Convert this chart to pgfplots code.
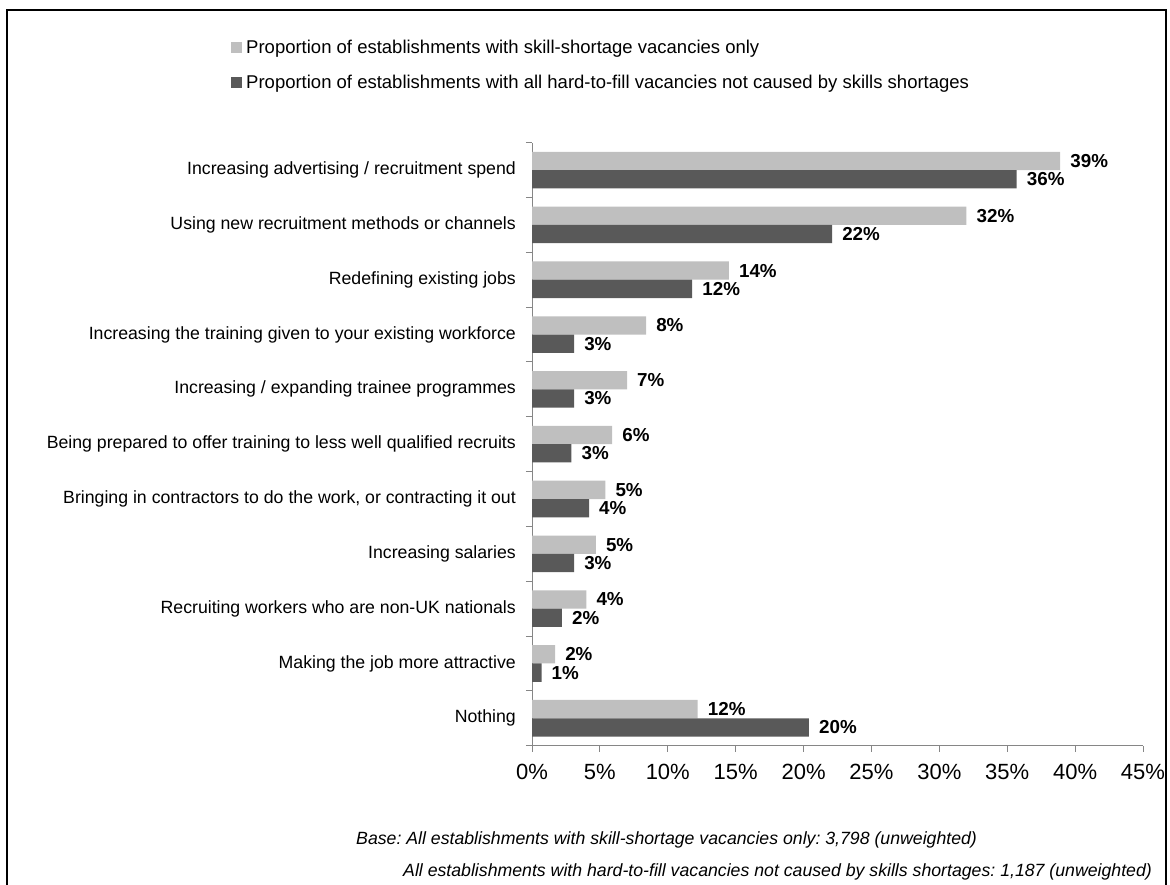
\documentclass[border=0pt]{standalone}
\usepackage{fontspec}
\setmainfont{Liberation Sans}
\usepackage{pgfplots}
\usepackage{pgfplotstable}
\pgfplotsset{compat=1.18}
\frenchspacing

\definecolor{lightbar}{HTML}{BFBFBF}
\definecolor{darkbar}{HTML}{595959}
\definecolor{axisgray}{HTML}{868686}

% pos: 10 = top category, 0 = Nothing; labs are the printed (rounded) values
\pgfplotstableread{
pos light llab dark dlab
10 38.9 39 35.7 36
9  32.0 32 22.1 22
8  14.5 14 11.8 12
7  8.4  8  3.1  3
6  7.0  7  3.1  3
5  5.9  6  2.9  3
4  5.4  5  4.2  4
3  4.7  5  3.1  3
2  4.0  4  2.2  2
1  1.7  2  0.7  1
0  12.2 12 20.4 20
}\measures

\begin{document}
\begin{tikzpicture}[x=1pt,y=1pt]
\useasboundingbox (0,0) rectangle (1170,884);
\draw[line width=2pt] (7,-2) -- (7,874) -- (1166,874) -- (1166,-2);
\begin{axis}[
  at={(532pt,138.3pt)}, anchor=south west,
  scale only axis, width=611pt, height=603pt,
  xbar=0pt, bar width=18.3pt,
  xmin=0, xmax=45, ymin=-0.5, ymax=10.5,
  axis x line*=bottom, axis y line*=left,
  axis line style={draw=axisgray, line width=1pt},
  tick style={draw=axisgray, line width=1pt},
  tick align=outside, major tick length=6pt,
  xtick={0,5,...,45},
  xticklabel={\pgfmathprintnumber{\tick}\%},
  /pgf/number format/assume math mode=true,
  xticklabel style={font=\fontsize{22}{24}\selectfont, inner sep=0pt, anchor=north, yshift=-12pt},
  ytick={-0.5,0.5,...,10.5}, yticklabels={},
  extra y ticks={0,1,...,10},
  extra y tick labels={Nothing,
    Making the job more attractive,
    Recruiting workers who are non-UK nationals,
    Increasing salaries,
    {Bringing in contractors to do the work, or contracting it out},
    Being prepared to offer training to less well qualified recruits,
    Increasing / expanding trainee programmes,
    Increasing the training given to your existing workforce,
    Redefining existing jobs,
    Using new recruitment methods or channels,
    Increasing advertising / recruitment spend},
  extra y tick style={major tick length=0pt},
  yticklabel style={font=\fontsize{17.7}{20}\selectfont, anchor=east, inner sep=0pt, xshift=-16pt},
  point meta=explicit,
  nodes near coords={\pgfmathprintnumber{\pgfplotspointmeta}\%},
  nodes near coords style={font=\bfseries\fontsize{18.8}{20}\selectfont, anchor=west, inner sep=0pt, xshift=10pt, text=black},
  legend style={at={(axis description cs:-0.4926,1.1288)}, anchor=west, draw=none, fill=none,
    font=\fontsize{18.5}{20}\selectfont, row sep=20pt, inner sep=0pt,
    nodes={inner sep=0pt, outer sep=0pt}},
  legend cell align=left,
  legend image code/.code={\fill[#1] (0pt,-5.5pt) rectangle (11pt,5.5pt);},
  legend style={/tikz/every odd column/.append style={column sep=4pt}},
]
\addplot[fill=lightbar, draw=none, bar shift=9.15pt] table[x=light, y=pos, meta=llab] {\measures};
\addplot[fill=darkbar, draw=none, bar shift=-9.15pt] table[x=dark, y=pos, meta=dlab] {\measures};
\legend{Proportion of establishments with skill-shortage vacancies only,
  Proportion of establishments with all hard-to-fill vacancies not caused by skills shortages}
\end{axis}
\node[anchor=west, inner sep=0pt, font=\itshape\fontsize{17.7}{19}\selectfont] at (356,44)
  {Base: All establishments with skill-shortage vacancies only: 3,798 (unweighted)};
\node[anchor=west, inner sep=0pt, font=\itshape\fontsize{17.7}{19}\selectfont] at (403,12)
  {All establishments with hard-to-fill vacancies not caused by skills shortages: 1,187 (unweighted)};
\end{tikzpicture}
\end{document}
